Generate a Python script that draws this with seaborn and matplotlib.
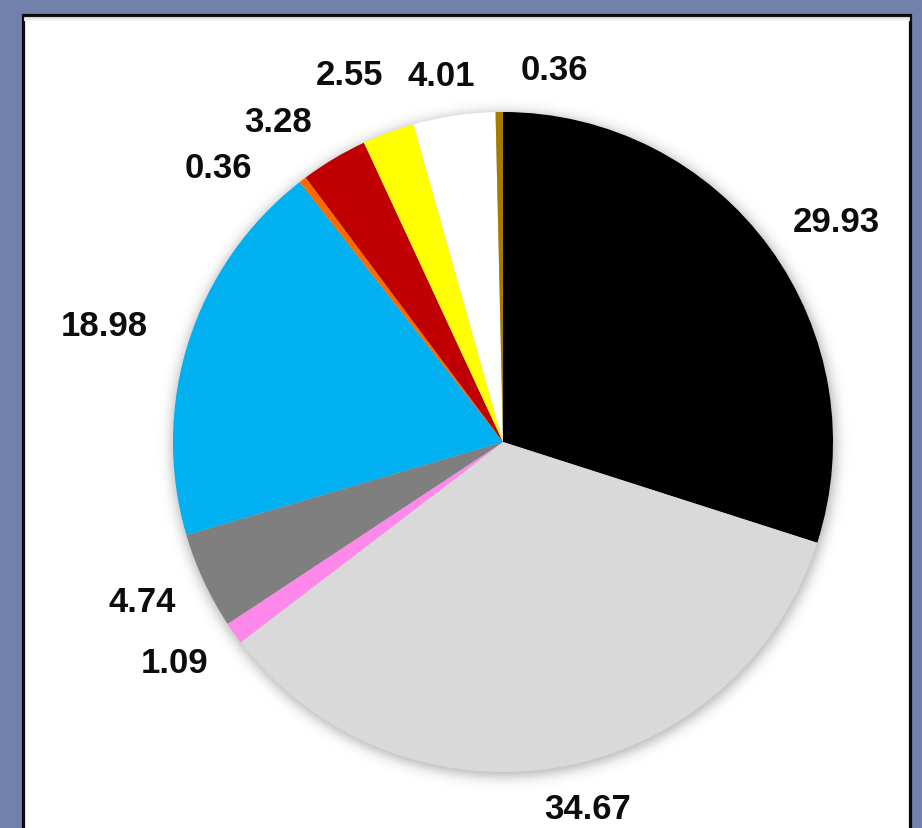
import numpy as np
import matplotlib
matplotlib.use("Agg")
import matplotlib.pyplot as plt
from matplotlib.patches import Rectangle
import seaborn as sns

# Share of each category (percent), clockwise from 12 o'clock
values = [29.93, 34.67, 1.09, 4.74, 18.98, 0.36, 3.28, 2.55, 4.01, 0.36]
labels = ["29.93", "34.67", "1.09", "4.74", "18.98", "0.36", "3.28", "2.55", "4.01", "0.36"]
colors = ["#000000", "#D9D9D9", "#FF89EA", "#7F7F7F", "#00B0F0",
          "#FF6A00", "#C00000", "#FFFF00", "#FFFFFF", "#A67C00"]

# Label anchor points (pixel layout, measured from the top-left corner)
label_xy = [(836.5, 222.5), (588, 810), (175, 663.5), (142.5, 602), (104.5, 326),
            (218.5, 168.5), (278.5, 122.5), (349.5, 75.5), (441.5, 77), (554.5, 70)]

W, H = 922, 829
cx, cy, R = 503, 443, 330

sns.set_theme(style="white")
plt.rcParams["font.family"] = ["Liberation Sans", "DejaVu Sans"]

fig = plt.figure(figsize=(W / 100, H / 100), dpi=100)
fig.patch.set_facecolor("#7181AB")
ax = fig.add_axes([0, 0, 1, 1])

# White panel with dark frame
ax.add_patch(Rectangle((22.5, -20), 887, H - 15.5 + 20, facecolor="white",
                       edgecolor="#0A0A0A", lw=2.3, zorder=0))
for i, c in enumerate(["#D4D4D4", "#E4E4E4", "#F0F0F0", "#F8F8F8"]):
    ax.plot([24, 908.5], [H - 17.5 - i, H - 17.5 - i], color=c, lw=0.8, zorder=0.5)

# Soft halo behind the pie
yy, xx = np.mgrid[0:H, 0:W]
d = np.hypot(xx - cx, yy - (cy + 2))
halo = np.clip((d - R + 6) / 16.0, 0, None)
alpha = np.where(d > R - 6, 0.38 * np.exp(-halo ** 2 * 2.2), 0.38)
img = np.zeros((H, W, 4))
img[..., :3] = 0.35
img[..., 3] = alpha
ax.imshow(img, extent=(0, W, 0, H), origin="upper", zorder=1, interpolation="bilinear")

ax.pie(values, colors=colors, startangle=90, counterclock=False,
       center=(cx, H - cy), radius=R, frame=False,
       wedgeprops=dict(linewidth=0, antialiased=True, zorder=2))

for (lx, ly), t in zip(label_xy, labels):
    ax.text(lx, H - ly, t, ha="center", va="center", fontsize=25,
            fontweight="bold", color="#0D0D0D", zorder=3)

ax.set_xlim(0, W)
ax.set_ylim(0, H)
ax.set_aspect("auto")
ax.axis("off")

fig.savefig("out.png", dpi=100, facecolor=fig.get_facecolor())
